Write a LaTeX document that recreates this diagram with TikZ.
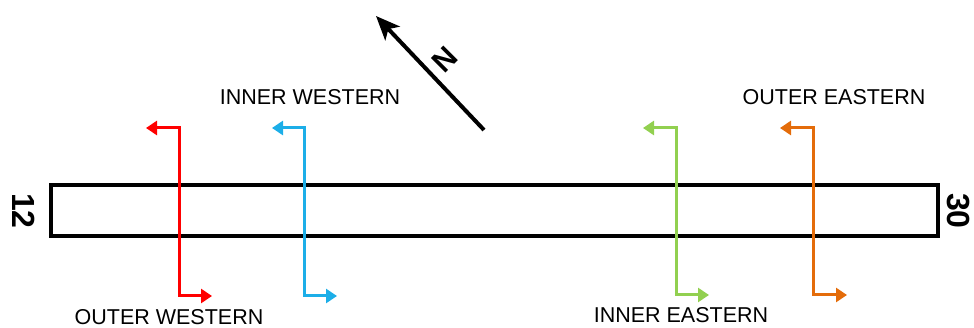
\documentclass[tikz,border=0pt]{standalone}
\usepackage{fontspec}
\setmainfont{Liberation Sans}
\usetikzlibrary{arrows.meta}
\definecolor{secred}{HTML}{FF0000}
\definecolor{secblue}{HTML}{1CAEE8}
\definecolor{secgreen}{HTML}{92D050}
\definecolor{secorange}{HTML}{E46C0A}
\begin{document}
\begin{tikzpicture}[x=1pt,y=-1pt,
  section/.style={line width=3pt,line join=miter,
    {Triangle[length=11pt,width=14pt]}-{Triangle[length=11pt,width=14pt]}},
  lbl/.style={font=\fontsize{21.5}{24}\selectfont,inner sep=0pt,anchor=base},
  endlbl/.style={font=\fontsize{32}{36}\selectfont\bfseries,inner sep=0pt,rotate=-90},
  bridge/.style={draw=black,line width=4pt}]
\useasboundingbox (0,0) rectangle (974,328);
% deck
\node[bridge,minimum width=887pt,minimum height=51pt,inner sep=0pt] (deck) at (494.5,210.5) {};
\node[endlbl] (w12) at (24,211) {12};
\node[endlbl] (e30) at (958,211) {30};
% north arrow
\coordinate (ntail) at (484,130);
\coordinate (ntip) at (376,16);
\draw[line width=4pt,-{Stealth[length=24pt,width=20pt,inset=6pt]}] (ntail) -- (ntip);
\node[font=\fontsize{30}{34}\selectfont\bfseries,rotate=45,inner sep=0pt] (nlbl) at (445,60) {N};
% sections
\coordinate (r1) at (146,128); \coordinate (r2) at (179,128);
\coordinate (r3) at (179,296); \coordinate (r4) at (212,296);
\draw[section,secred] (r1) -- (r2) -- (r3) -- (r4);
\coordinate (b1) at (272,128); \coordinate (b2) at (304,128);
\coordinate (b3) at (304,296); \coordinate (b4) at (337,296);
\draw[section,secblue] (b1) -- (b2) -- (b3) -- (b4);
\coordinate (g1) at (643,128); \coordinate (g2) at (676,128);
\coordinate (g3) at (676,295); \coordinate (g4) at (709,295);
\draw[section,secgreen] (g1) -- (g2) -- (g3) -- (g4);
\coordinate (o1) at (780,128); \coordinate (o2) at (813,128);
\coordinate (o3) at (813,295); \coordinate (o4) at (847,295);
\draw[section,secorange] (o1) -- (o2) -- (o3) -- (o4);
% labels
\node[lbl] (iw) at (310,105) {INNER WESTERN};
\node[lbl] (oe) at (834,105) {OUTER EASTERN};
\node[lbl] (ow) at (169,325) {OUTER WESTERN};
\node[lbl] (ie) at (681,323) {INNER EASTERN};
\end{tikzpicture}
\end{document}
